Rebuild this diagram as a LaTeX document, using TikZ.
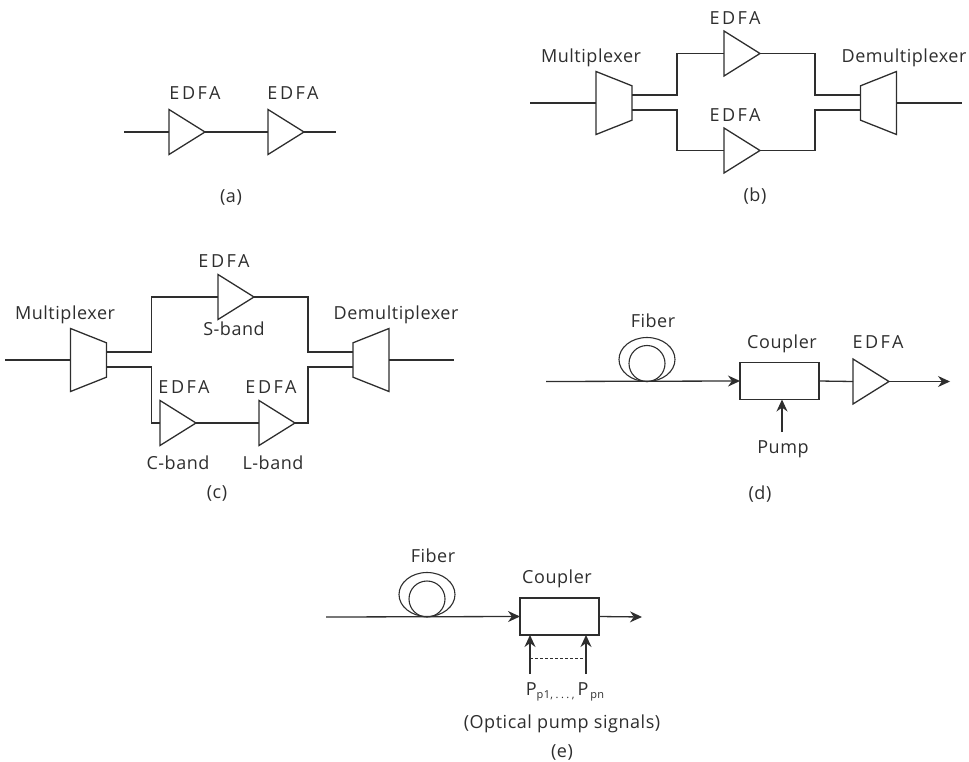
\documentclass[tikz,border=0pt]{standalone}
\usepackage{fontspec}
\setmainfont[LetterSpace=3]{Open Sans}
\usepackage{tikz}
\usetikzlibrary{arrows.meta,shapes.geometric}
\definecolor{ink}{gray}{0.18}
\newcommand{\edfa}{{\addfontfeature{LetterSpace=14}EDFA}}
\newcommand{\subp}[1]{\raisebox{-3pt}{\fontsize{11}{11}\selectfont #1}}
\tikzstyle{lbl}=[inner sep=0pt,text=ink,text height=13pt,text depth=4pt,font=\fontsize{18}{20}\selectfont]
\tikzstyle{amp}=[isosceles triangle,isosceles triangle apex angle=64,draw=ink,line width=1.3pt,inner sep=0pt,outer sep=0pt,minimum height=36pt,anchor=lower side]
\tikzstyle{mux}=[trapezium,trapezium left angle=67.4,trapezium right angle=67.4,trapezium stretches=true,shape border rotate=270,draw=ink,line width=1.3pt,inner sep=1pt,outer sep=0pt,minimum width=63pt,minimum height=36pt]
\tikzstyle{demux}=[mux,shape border rotate=90]
\tikzstyle{box}=[rectangle,draw=ink,line width=1.3pt,inner sep=0pt,outer sep=0pt,minimum width=79pt,minimum height=37pt]
\tikzstyle{coilo}=[ellipse,draw=ink,line width=1.1pt,inner sep=0pt,minimum width=56pt,minimum height=44pt]
\tikzstyle{coili}=[circle,draw=ink,line width=1.1pt,inner sep=0pt,minimum size=36pt]
\tikzstyle{wire}=[draw=ink,line width=1.3pt]
\tikzstyle{arr}=[-{Stealth[length=12pt,width=11pt]},draw=ink,line width=1.3pt]
\begin{document}
\begin{tikzpicture}[x=1pt,y=-1pt]
      \useasboundingbox (0,0) rectangle (969,762);
      % (a)
      \coordinate (ina) at (124,132);
      \coordinate (outa) at (336,132);
      \node[amp] (a1) at (169,132) {};
      \node[amp] (a2) at (268,132) {};
      \node[lbl] (la1) at (195,95) {\edfa};
      \node[lbl] (la2) at (293,95) {\edfa};
      \node[lbl] (capa) at (231,198) {(a)};
      \draw[wire] (ina) -- (a1.lower side);
      \draw[wire] (a1.apex) -- (a2.lower side);
      \draw[wire] (a2.apex) -- (outa);
      % (b)
      \coordinate (inb) at (530,103);
      \coordinate (outb) at (962,103);
      \node[mux] (mb) at (614,103) {};
      \node[demux] (db) at (878.5,103) {};
      \node[amp] (b1) at (724,53.5) {};
      \node[amp] (b2) at (724,150.5) {};
      \node[lbl] (lb1) at (735,20.5) {\edfa};
      \node[lbl] (lb2) at (735,117) {\edfa};
      \node[lbl] (lmb) at (591,58) {Multiplexer};
      \node[lbl] (ldb) at (904,58) {Demultiplexer};
      \node[lbl] (capb) at (755,197.5) {(b)};
      \draw[wire] (inb) -- (mb.west);
      \draw[wire] (db.east) -- (outb);
      \draw[wire] ([yshift=8pt]mb.east) -- ++(45,0) |- (b1.lower side);
      \draw[wire] ([yshift=-7pt]mb.east) -- ++(45,0) |- (b2.lower side);
      \draw[wire] (b1.apex) -| (815,95) -- ([yshift=8pt]db.west);
      \draw[wire] (b2.apex) -| (815,110) -- ([yshift=-7pt]db.west);
      % (c)
      \coordinate (inc) at (5,360);
      \coordinate (outc) at (454,360);
      \node[mux] (mc) at (88.5,360) {};
      \node[demux] (dc) at (371,360) {};
      \node[amp] (cs) at (218,297) {};
      \node[amp] (cc) at (160,423) {};
      \node[amp] (cl) at (259,423) {};
      \node[lbl] (lcs) at (224,262.5) {\edfa};
      \node[lbl] (lcc) at (184,389) {\edfa};
      \node[lbl] (lcl) at (271,389) {\edfa};
      \node[lbl] (lbs) at (234,330.5) {S-band};
      \node[lbl] (lbc) at (178,464.5) {C-band};
      \node[lbl] (lbl) at (273,464.5) {L-band};
      \node[lbl] (lmc) at (65,315) {Multiplexer};
      \node[lbl] (ldc) at (396,315) {Demultiplexer};
      \node[lbl] (capc) at (217,494) {(c)};
      \draw[wire] (inc) -- (mc.west);
      \draw[wire] (dc.east) -- (outc);
      \draw[wire] ([yshift=8pt]mc.east) -- ++(45,0) |- (cs.lower side);
      \draw[wire] ([yshift=-7pt]mc.east) -- ++(45,0) |- (cc.lower side);
      \draw[wire] (cc.apex) -- (cl.lower side);
      \draw[wire] (cs.apex) -| (308,352) -- ([yshift=8pt]dc.west);
      \draw[wire] (cl.apex) -| (308,367) -- ([yshift=-7pt]dc.west);
      % (d)
      \coordinate (ind) at (546,381.5);
      \coordinate (outd) at (950,381.5);
      \coordinate (pmpd) at (782,432);
      \node[coilo] (fod) at (647,359.5) {};
      \node[coili] (fid) at (647,363.5) {};
      \node[box] (cd) at (779.5,381) {};
      \node[amp] (ed) at (853,381.5) {};
      \node[lbl] (lfd) at (653,323) {Fiber};
      \node[lbl] (lcd) at (782,344) {Coupler};
      \node[lbl] (led) at (878,344) {\edfa};
      \node[lbl] (lpd) at (783,448.5) {Pump};
      \node[lbl] (capd) at (760,494.5) {(d)};
      \draw[arr] (ind) -- (cd.west);
      \draw[wire] (cd.east) -- (ed.lower side);
      \draw[arr] (ed.apex) -- (outd);
      \draw[arr] (pmpd) -- (pmpd |- cd.south);
      % (e)
      \coordinate (ine) at (326,617);
      \coordinate (oute) at (642,617);
      \coordinate (p1) at (530,674);
      \coordinate (p2) at (586,674);
      \coordinate (t1) at (530,658);
      \coordinate (t2) at (586,658);
      \node[coilo] (foe) at (427,594.5) {};
      \node[coili] (fie) at (427,599) {};
      \node[box] (ce) at (559.5,616.5) {};
      \node[lbl] (lfe) at (433,558) {Fiber};
      \node[lbl] (lce) at (557,578.5) {Coupler};
      \node[lbl] (lpe) at (565,690.5) {P\subp{p1,\hspace{2.5pt}.\hspace{2.5pt}.\hspace{2.5pt}.\hspace{2.5pt},}\,P\subp{\,pn}};
      \node[lbl] (lop) at (562,723.5) {(Optical pump signals)};
      \node[lbl] (cape) at (562,753) {(e)};
      \draw[arr] (ine) -- (ce.west);
      \draw[arr] (ce.east) -- (oute);
      \draw[arr] (p1) -- (p1 |- ce.south);
      \draw[arr] (p2) -- (p2 |- ce.south);
      \draw[draw=ink,line width=1pt,densely dashed] (t1) -- (t2);
  \end{tikzpicture}
\end{document}
